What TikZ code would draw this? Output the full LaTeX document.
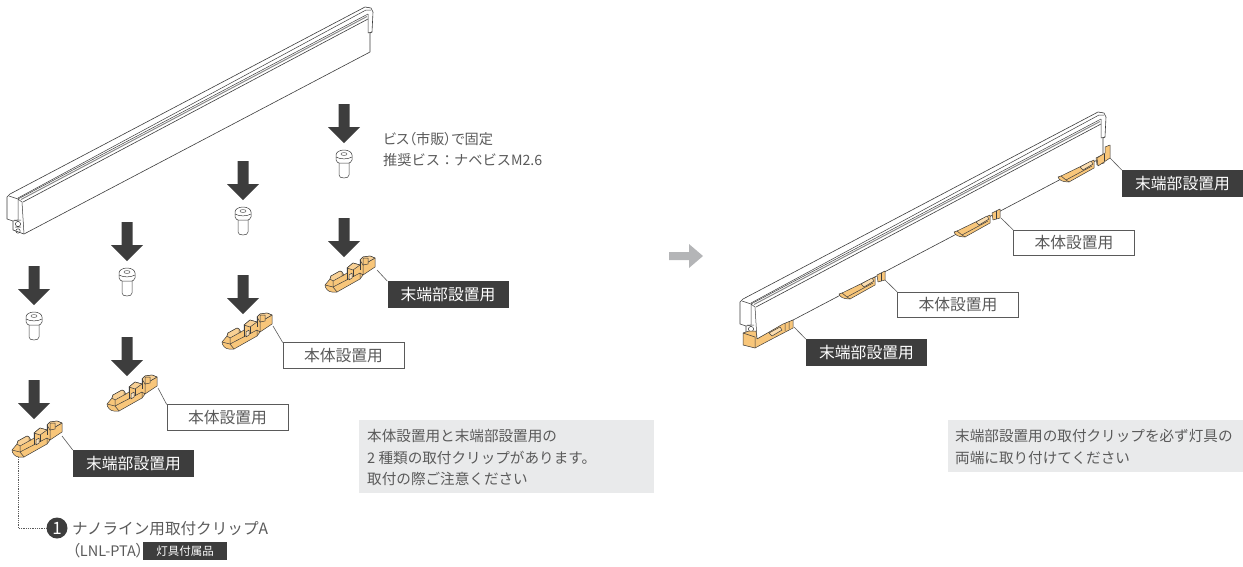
\documentclass[tikz,border=0pt]{standalone}
\usepackage{fontspec}
\setmainfont{Noto Sans CJK JP}
\definecolor{ink}{HTML}{3D3D3D}
\definecolor{txt}{HTML}{5A5A5A}
\definecolor{note}{HTML}{E9EAEB}
\definecolor{clipc}{HTML}{F8C67A}
\definecolor{arrowg}{HTML}{B4B5B7}
\newcommand{\propo}{\addfontfeature{RawFeature=+palt}}
\tikzset{
  x=1pt,y=-1pt,
  edge/.style={draw=ink,line width=.6pt,line join=round},
  thin edge/.style={draw=ink,line width=.5pt,line join=round},
  darklabel/.style={fill=ink,text=white,minimum width=121pt,minimum height=26.5pt,inner sep=0pt,font=\fontsize{15.8}{18}\selectfont},
  lightlabel/.style={draw=txt,line width=.6pt,fill=white,text=txt,minimum width=121pt,minimum height=25.5pt,inner sep=0pt,font=\fontsize{15.8}{18}\selectfont},
  leader/.style={draw=txt,line width=.6pt},
  notebox/.style={fill=note,inner sep=0pt,anchor=north west},
  notetext/.style={text=txt,inner sep=0pt,anchor=west,font=\fontsize{14.6}{18}\selectfont},
  plain text/.style={text=txt,inner sep=0pt,anchor=west,font=\fontsize{14.2}{18}\selectfont},
  pics/downarrow/.style={code={
    \fill[ink] (-5.5,-39) -- (5.5,-39) -- (5.5,-16) -- (16,-16) -- (0,0) -- (-16,-16) -- (-5.5,-16) -- cycle;}},
  pics/screw/.style={code={
    \draw[thin edge,fill=white] (-5,12) -- (-5,25) .. controls (-5,27) and (-3,28) .. (0,28) .. controls (3,28) and (5,27) .. (5,25) -- (5,12);
    \draw[thin edge,fill=white] (-8,5) .. controls (-8,2) and (-4,0) .. (0,0) .. controls (4,0) and (8,2) .. (8,5) -- (8,10) .. controls (7,12) and (6,13) .. (5,13) -- (-5,13) .. controls (-6,13) and (-7,12) .. (-8,10) -- cycle;
    \draw[thin edge] (-8,7) .. controls (-4,9.5) and (4,9.5) .. (8,7);
    \draw[draw=ink!70,line width=.6pt] (0,4) ellipse (3 and 1.5);}},
  pics/loosecl/.style={code={
    % origin = left tip of the clip
    \draw[thin edge,fill=clipc] (0,0) .. controls (0,3) and (3,7) .. (7,7) -- (12,7) -- (35,-6) -- (38,-10) -- (50,-18) -- (50,-27) -- (45,-29) -- (38,-28) -- (35,-25) -- (35,-20) -- (28,-22) -- (22,-17) -- (22,-12) -- (19,-10) -- (17,-13) -- (15,-14) -- (6,-9) -- (5,-6) -- cycle;
    % upper faces
    \draw[thin edge] (0,0) -- (8,2) -- (35,-12) -- (35,-6);
    \draw[thin edge] (8,2) -- (12,7);
    \draw[thin edge,fill=clipc!80!white] (5,-6) -- (6,-9) -- (15,-14) -- (17,-13) -- (17,-9) -- (8,-4) -- cycle;
    \draw[thin edge] (8,-4) -- (8,2) (17,-9) -- (19,-10);
    \draw[thin edge,fill=clipc!80!white] (22,-17) -- (28,-22) -- (35,-20) -- (28,-15) -- cycle;
    \draw[thin edge] (28,-15) -- (28,-8) (22,-17) -- (22,-5);
    \draw[thin edge,fill=clipc!45!white] (24,-10) -- (27,-12) -- (27,-7) -- (24,-5) -- cycle;
    \draw[thin edge] (35,-12) -- (38,-10) -- (38,-20) -- (50,-27);
    \draw[thin edge,fill=clipc!80!white] (35,-25) -- (38,-28) -- (45,-29) -- (50,-27) -- (38,-20) -- cycle;
    \draw[thin edge,fill=clipc] (38,-27) -- (43,-27) -- (43,-21) -- (38,-20) -- cycle;
    \draw[thin edge] (35,-25) -- (35,-15);}},
  pics/seatcl/.style={code={
    % origin = left tip of a clip under the bar
    \draw[thin edge,fill=clipc] (0,0) .. controls (1,3) and (4,5) .. (11,5) -- (36,-9) -- (36,-17) -- (3,-1) -- cycle;
    \draw[thin edge] (3,-1) -- (8,3) -- (11,5) (8,3) -- (34,-11);
    \draw[thin edge,fill=clipc!60!white] (22,-10) -- (33,-16) -- (35,-13) -- (25,-7) -- cycle;
    \draw[thin edge,fill=clipc] (38,-19) -- (46,-23) -- (46,-14) -- (39,-12) -- cycle;
    \draw[thin edge] (42.5,-21) -- (42.5,-13);}},
  pics/bar/.style={code={
    \filldraw[edge,fill=white] (7,197) -- (10,194) -- (365,7) -- (371,8) -- (373,12) -- (372,32) -- (370,33) -- (370,52) -- (24,234) -- (13,230) -- (13,221) -- (7,219) -- cycle;
    \draw[thin edge] (9,196) -- (18,199) -- (368,14);
    \draw[thin edge] (18,198) -- (366,10) -- (371,10);
    \draw[draw=ink!60,line width=1pt] (21,199.5) -- (367,16.5);
    \draw[edge] (23,202) -- (368,19);
    \draw[thin edge] (18,199) -- (18,220) (18,199) -- (22,202) -- (24,234) (13,221) -- (18,220);
    \draw[thin edge] (368,14) -- (368,33) -- (372,32);
    \draw[thin edge] (18,224) circle (2.6) (18,231) circle (2.2) (14,220) -- (21,220) (15,227) -- (21,227);}}
}
\begin{document}
\begin{tikzpicture}
\useasboundingbox (0,0) rectangle (1243,566);
% left: bar
\pic at (0,0) {bar};
% arrows and screws
\pic at (344,143) {downarrow};
\pic at (344,150) {screw};
\pic at (243,200) {downarrow};
\pic at (243,207) {screw};
\pic at (127,261) {downarrow};
\pic at (127,268) {screw};
\pic at (34,305) {downarrow};
\pic at (34,312) {screw};
\pic at (344,257) {downarrow};
\pic at (243,314) {downarrow};
\pic at (127,376) {downarrow};
\pic at (34,419) {downarrow};
% clips
\pic at (325,285) {loosecl};
\pic at (222,342) {loosecl};
\pic at (107,404) {loosecl};
\pic at (12,450) {loosecl};
% labels
\node[darklabel] (a1) at (448,294.5) {末端部設置用};
\node[lightlabel] (a2) at (343.5,355.5) {本体設置用};
\node[lightlabel] (a3) at (227.5,417.5) {本体設置用};
\node[darklabel] (a4) at (133.5,463.5) {末端部設置用};
\coordinate (c1) at (377,270);
\coordinate (c2) at (273,326);
\coordinate (c3) at (158,388);
\coordinate (c4) at (62,436);
\draw[leader] (c1) -- (a1.north west);
\draw[leader] (c2) -- (a2.north west);
\draw[leader] (c3) -- (a3.north west);
\draw[leader] (c4) -- (a4.north west);
% text
\node[plain text] (t1) at (383,139) {\propo ビス（市販）で固定};
\node[plain text] (t2) at (383,160) {推奨ビス：ナベビスM2.6};
% notes
\node[notebox,minimum width=295pt,minimum height=73pt] (n1) at (359,420) {};
\node[notetext] (n1a) at (367,436) {本体設置用と末端部設置用の};
\node[notetext] (n1b) at (367,458) {2 種類の取付クリップがあります。};
\node[notetext] (n1c) at (367,479) {取付の際ご注意ください};
\node[notebox,minimum width=295pt,minimum height=52pt] (n2) at (948,420) {};
\node[notetext] (n2a) at (955,436) {末端部設置用の取付クリップを必ず灯具の};
\node[notetext] (n2b) at (955,458) {両端に取り付けてください};
% part reference
\node[circle,fill=ink,text=white,minimum size=21pt,inner sep=0pt,font=\fontsize{17}{17}\selectfont] (num) at (57,528) {1};
\coordinate (d0) at (18,457);
\draw[draw=txt,line width=.8pt,densely dotted] (d0) |- (num.west);
\node[text=txt,inner sep=0pt,anchor=west,font=\fontsize{15.6}{18}\selectfont] (p1) at (72,529) {ナノライン用取付クリップA};
\node[text=txt,inner sep=0pt,anchor=west,font=\fontsize{15.4}{18}\selectfont\propo] (p2) at (72,551) {（{\fontsize{14.5}{18}\selectfont LNL-PTA}）};
\node[fill=ink,text=white,minimum width=84pt,minimum height=18pt,inner sep=0pt,font=\fontsize{11.5}{12}\selectfont] (tag) at (185,551) {灯具付属品};
% middle arrow
\fill[arrowg] (669,252) -- (689,252) -- (689,244) -- (703,256) -- (689,268) -- (689,260) -- (669,260) -- cycle;
% right: assembled bar
\begin{scope}[shift={(733,105)}]
\pic at (0,0) {bar};
\end{scope}
\pic at (839,294) {seatcl};
\pic at (954,232) {seatcl};
\pic at (1058,177) {seatcl};
% right end tab
\draw[thin edge,fill=clipc] (1097,158) -- (1105,153) -- (1105,147) -- (1110,145) -- (1110,158) -- (1098,166) -- cycle;
\draw[thin edge] (1104,154) -- (1104,161);
% left end clip
\draw[thin edge,fill=clipc] (743,333) -- (743,345) -- (755,348) -- (770,340) -- (793,328) -- (793,320) -- (783,324) -- (757,339) -- (756,331) -- (749,331) -- cycle;
\draw[thin edge,fill=clipc!60!white] (769,333) -- (780,327) -- (782,330) -- (772,336) -- cycle;
\draw[thin edge] (785,323) -- (785,331) (789,321) -- (789,329) (743,333) -- (755,337) -- (755,348);
\node[darklabel] (b1) at (1182.5,183.5) {末端部設置用};
\node[lightlabel] (b2) at (1074,243) {本体設置用};
\node[lightlabel] (b3) at (958,305) {本体設置用};
\node[darklabel] (b4) at (866.5,352.5) {末端部設置用};
\coordinate (e1) at (1110,158);
\coordinate (e2) at (1001,218);
\coordinate (e3) at (885,280);
\coordinate (e4) at (794,327);
\draw[leader] (e1) -- (b1.north west);
\draw[leader] (e2) -- (b2.north west);
\draw[leader] (e3) -- (b3.north west);
\draw[leader] (e4) -- (b4.north west);
\end{tikzpicture}
\end{document}
